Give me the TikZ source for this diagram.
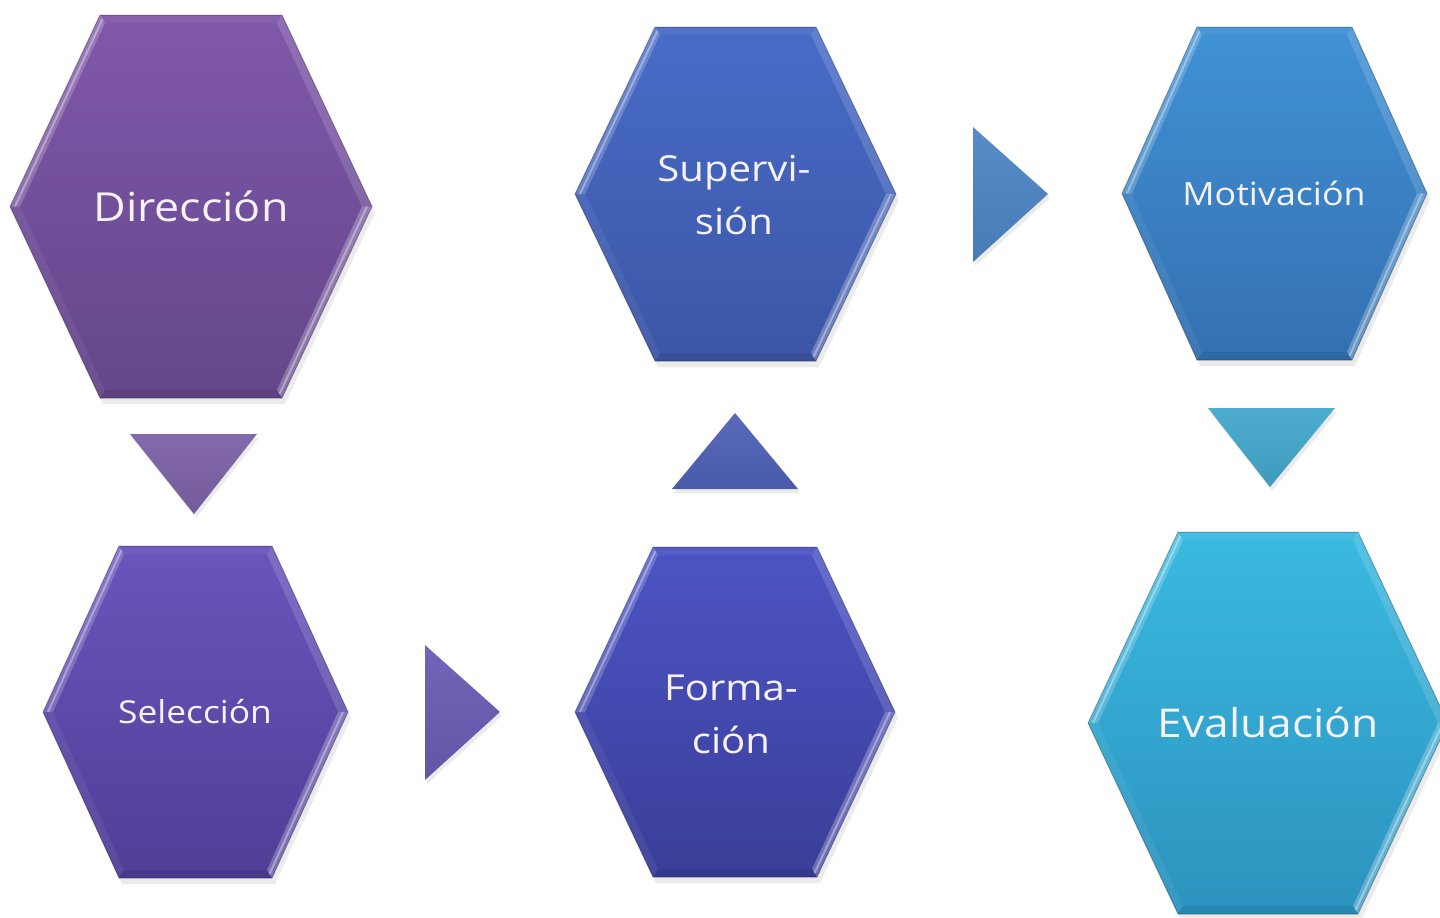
\documentclass[tikz,border=0pt]{standalone}
\usepackage{fontspec}
\setmainfont{Open Sans}[FakeStretch=1.12]
\definecolor{dirT}{RGB}{128,88,170}
\definecolor{dirB}{RGB}{100,70,138}
\definecolor{selT}{RGB}{106,85,188}
\definecolor{selB}{RGB}{80,62,150}
\definecolor{supT}{RGB}{72,108,200}
\definecolor{supB}{RGB}{60,86,165}
\definecolor{forT}{RGB}{76,84,196}
\definecolor{forB}{RGB}{58,62,152}
\definecolor{motT}{RGB}{64,146,214}
\definecolor{motB}{RGB}{52,112,176}
\definecolor{evaT}{RGB}{58,186,224}
\definecolor{evaB}{RGB}{44,146,190}
\definecolor{triA}{RGB}{125,98,168}
\definecolor{triB}{RGB}{106,93,181}
\definecolor{triC}{RGB}{80,98,184}
\definecolor{triD}{RGB}{78,134,198}
\definecolor{triE}{RGB}{68,168,204}
\definecolor{txt}{RGB}{246,242,250}
% #1 name, #2 cx, #3 cy, #4 half width, #5 half height, #6 inset, #7 top colour, #8 bottom colour
\newcommand\hexshape[8]{%
  \begin{scope}[shift={(#2,#3)}]
    \coordinate (#1-Lo) at ({-#4},0);
    \coordinate (#1-TLo) at ({-#4+#6},{-#5});
    \coordinate (#1-TRo) at ({#4-#6},{-#5});
    \coordinate (#1-Ro) at ({#4},0);
    \coordinate (#1-BRo) at ({#4-#6},{#5});
    \coordinate (#1-BLo) at ({-#4+#6},{#5});
    \coordinate (#1-Li) at ({-#4+10},0);
    \coordinate (#1-TLi) at ({-#4+#6+5},{-#5+8});
    \coordinate (#1-TRi) at ({#4-#6-5},{-#5+8});
    \coordinate (#1-Ri) at ({#4-10},0);
    \coordinate (#1-BRi) at ({#4-#6-5},{#5-8});
    \coordinate (#1-BLi) at ({-#4+#6+5},{#5-8});
    \fill[black,opacity=0.08] ([shift={(3,6)}]#1-Lo) -- ([shift={(3,6)}]#1-TLo) -- ([shift={(3,6)}]#1-TRo) -- ([shift={(3,6)}]#1-Ro) -- ([shift={(3,6)}]#1-BRo) -- ([shift={(3,6)}]#1-BLo) -- cycle;
    \path[top color=#7,bottom color=#8] (#1-Lo) -- (#1-TLo) -- (#1-TRo) -- (#1-Ro) -- (#1-BRo) -- (#1-BLo) -- cycle;
    \fill[white,opacity=0.05] (#1-TLo) -- (#1-TRo) -- (#1-TRi) -- (#1-TLi) -- cycle;
    \fill[white,opacity=0.14] (#1-TRo) -- (#1-Ro) -- (#1-Ri) -- (#1-TRi) -- cycle;
    \fill[white,opacity=0.26] (#1-Ro) -- (#1-BRo) -- (#1-BRi) -- (#1-Ri) -- cycle;
    \fill[black,opacity=0.08] (#1-BRo) -- (#1-BLo) -- (#1-BLi) -- (#1-BRi) -- cycle;
    \fill[white,opacity=0.06] (#1-BLo) -- (#1-Lo) -- (#1-Li) -- (#1-BLi) -- cycle;
    \fill[white,opacity=0.20] (#1-Lo) -- (#1-TLo) -- (#1-TLi) -- (#1-Li) -- cycle;
    \draw[white,opacity=0.35,line width=1pt] ($(#1-Lo)!0.5!(#1-Li)$) -- ($(#1-TLo)!0.5!(#1-TLi)$);
    \draw[white,opacity=0.35,line width=1pt] ($(#1-Ro)!0.5!(#1-Ri)$) -- ($(#1-BRo)!0.5!(#1-BRi)$);
    \draw[black,opacity=0.25,line width=0.5pt] (#1-Lo) -- (#1-TLo) -- (#1-TRo) -- (#1-Ro) -- (#1-BRo) -- (#1-BLo) -- cycle;
  \end{scope}}
\usetikzlibrary{calc}
\begin{document}
\begin{tikzpicture}[x=0.5pt,y=-0.5pt,
  lbl/.style={text=txt, align=center, inner sep=0pt},
  trishadow/.style={fill=black,opacity=0.08}]
\clip (0,0) rectangle (1440,917);
\fill[white] (0,0) rectangle (1440,917);

% hexagons
\hexshape{dir}{191}{206.5}{181}{191.5}{90}{dirT}{dirB}
\hexshape{sel}{195.5}{712}{152.5}{166}{76}{selT}{selB}
\hexshape{sup}{735.5}{194}{160.5}{167}{80}{supT}{supB}
\hexshape{for}{735}{712}{160}{165}{78}{forT}{forB}
\hexshape{mot}{1274.5}{193.5}{152.5}{166.5}{75}{motT}{motB}
\hexshape{eva}{1268}{723}{180}{191}{90}{evaT}{evaB}

% labels
\node[lbl, font=\fontsize{20}{26}\selectfont] (ndir) at (191,206) {Dirección};
\node[lbl, font=\fontsize{15.8}{22}\selectfont] (nsel) at (195,712) {Selección};
\node[lbl, font=\fontsize{17.9}{26.5}\selectfont] (nsup) at (734,195) {Supervi-\\sión};
\node[lbl, font=\fontsize{17.9}{26.5}\selectfont] (nfor) at (731,714) {Forma-\\ción};
\node[lbl, font=\fontsize{16}{22}\selectfont] (nmot) at (1274,193) {Motivación};
\node[lbl, font=\fontsize{19.8}{26}\selectfont] (neva) at (1268,723) {Evaluación};

% arrow triangles
\coordinate (a1) at (130,434); \coordinate (a2) at (257,434); \coordinate (a3) at (194,514);
\fill[trishadow] ([shift={(2,4)}]a1) -- ([shift={(2,4)}]a2) -- ([shift={(2,4)}]a3) -- cycle;
\path[top color=triA!95!white, bottom color=triA!92!black] (a1) -- (a2) -- (a3) -- cycle;

\coordinate (b1) at (425,645); \coordinate (b2) at (425,780); \coordinate (b3) at (500,712);
\fill[trishadow] ([shift={(2,4)}]b1) -- ([shift={(2,4)}]b2) -- ([shift={(2,4)}]b3) -- cycle;
\path[top color=triB!95!white, bottom color=triB!92!black] (b1) -- (b2) -- (b3) -- cycle;

\coordinate (c1) at (672,489); \coordinate (c2) at (798,489); \coordinate (c3) at (735,413);
\fill[trishadow] ([shift={(2,4)}]c1) -- ([shift={(2,4)}]c2) -- ([shift={(2,4)}]c3) -- cycle;
\path[top color=triC!95!white, bottom color=triC!92!black] (c1) -- (c2) -- (c3) -- cycle;

\coordinate (d1) at (973,127); \coordinate (d2) at (973,262); \coordinate (d3) at (1048,194);
\fill[trishadow] ([shift={(2,4)}]d1) -- ([shift={(2,4)}]d2) -- ([shift={(2,4)}]d3) -- cycle;
\path[top color=triD!95!white, bottom color=triD!92!black] (d1) -- (d2) -- (d3) -- cycle;

\coordinate (e1) at (1208,408); \coordinate (e2) at (1335,408); \coordinate (e3) at (1270,487);
\fill[trishadow] ([shift={(2,4)}]e1) -- ([shift={(2,4)}]e2) -- ([shift={(2,4)}]e3) -- cycle;
\path[top color=triE!95!white, bottom color=triE!92!black] (e1) -- (e2) -- (e3) -- cycle;
\end{tikzpicture}
\end{document}
